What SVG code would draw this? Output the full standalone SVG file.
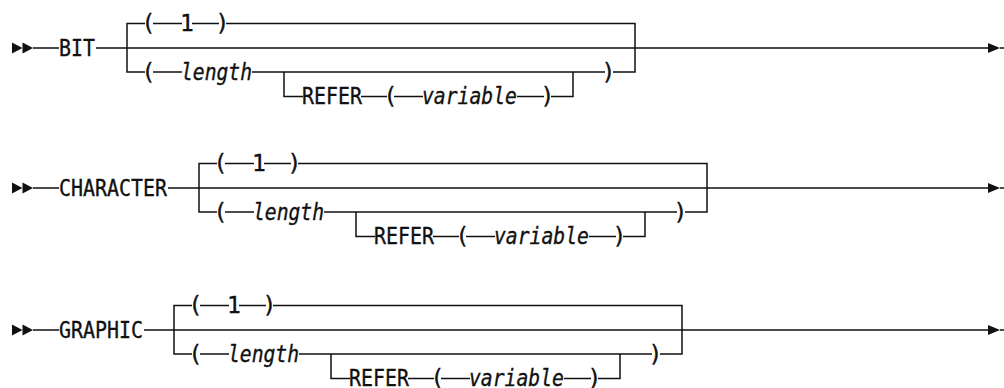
<svg xmlns="http://www.w3.org/2000/svg" xmlns:xlink="http://www.w3.org/1999/xlink" width="1004" height="388" viewBox="0 0 1004 388">
  <style>
    .rail { fill: none; stroke: #111; stroke-width: 1.5; }
    .head { fill: #111; stroke: none; }
    .kw { font-family: "DejaVu Sans Mono", "Liberation Mono", monospace; font-size: 23px; fill: #111; stroke: #111; stroke-width: 0.35; }
    .var { font-family: "DejaVu Sans Mono", "Liberation Mono", monospace; font-size: 23px; font-style: italic; fill: #111; stroke: #111; stroke-width: 0.35; }
    .mid { text-anchor: middle; }
  </style>
  <defs>
    <!-- statement start: double arrowhead, drawn at main-line y = 0 -->
    <g id="start-mark">
      <path class="head" d="M12,-5.5 L22.5,0 L12,5.5 Z"/>
      <path class="head" d="M22.5,-5.5 L33,0 L22.5,5.5 Z"/>
    </g>
    <!-- statement end: single arrowhead with closing tick -->
    <g id="end-mark">
      <path class="head" d="M988,-5 L1000,0 L988,5 Z"/>
      <path class="rail" d="M1000,0 H1004"/>
    </g>
    <!-- optional length clause; origin is the left bracket on the main line -->
    <g id="length-clause">
      <g class="rail">
        <path d="M18,-24.5 H0 V24 H18"/>
        <path d="M26,-24.5 H55"/>
        <path d="M65,-24.5 H92"/>
        <path d="M99,-24.5 H508 V24 H486"/>
        <path d="M26,24 H55"/>
        <path d="M125,24 H478"/>
        <path d="M157,24 V48.5 H176"/>
        <path d="M234,48.5 H260"/>
        <path d="M267,48.5 H296"/>
        <path d="M390,48.5 H417"/>
        <path d="M424,48.5 H446 V24"/>
      </g>
      <text class="kw mid" x="21.5" y="-17">(</text>
      <text class="kw mid" x="60" y="-17">1</text>
      <text class="kw mid" x="95.5" y="-17">)</text>
      <text class="kw mid" x="21.5" y="31.5">(</text>
      <text class="var" x="54" y="31.5" textLength="71" lengthAdjust="spacingAndGlyphs">length</text>
      <text class="kw mid" x="481.5" y="31.5">)</text>
      <text class="kw" x="175" y="56" textLength="60" lengthAdjust="spacingAndGlyphs">REFER</text>
      <text class="kw mid" x="263.5" y="56">(</text>
      <text class="var" x="295" y="56" textLength="95" lengthAdjust="spacingAndGlyphs">variable</text>
      <text class="kw mid" x="420.5" y="56">)</text>
    </g>
  </defs>

  <!-- connectors: main lines of each statement -->
  <g id="connectors" class="rail">
    <path d="M33,48 H59 M96,48 H988"/>
    <path d="M33,188 H59 M168,188 H988"/>
    <path d="M33,330 H59 M144,330 H988"/>
  </g>

  <!-- BIT -->
  <g id="bit">
    <use xlink:href="#start-mark" href="#start-mark" transform="translate(0,48)"/>
    <text class="kw" x="59" y="55.5" textLength="36" lengthAdjust="spacingAndGlyphs">BIT</text>
    <use xlink:href="#length-clause" href="#length-clause" transform="translate(127,48)"/>
    <use xlink:href="#end-mark" href="#end-mark" transform="translate(0,48)"/>
  </g>

  <!-- CHARACTER -->
  <g id="character">
    <use xlink:href="#start-mark" href="#start-mark" transform="translate(0,188)"/>
    <text class="kw" x="59" y="195.5" textLength="108" lengthAdjust="spacingAndGlyphs">CHARACTER</text>
    <use xlink:href="#length-clause" href="#length-clause" transform="translate(199,188)"/>
    <use xlink:href="#end-mark" href="#end-mark" transform="translate(0,188)"/>
  </g>

  <!-- GRAPHIC -->
  <g id="graphic">
    <use xlink:href="#start-mark" href="#start-mark" transform="translate(0,330)"/>
    <text class="kw" x="59" y="337.5" textLength="84" lengthAdjust="spacingAndGlyphs">GRAPHIC</text>
    <use xlink:href="#length-clause" href="#length-clause" transform="translate(174,330)"/>
    <use xlink:href="#end-mark" href="#end-mark" transform="translate(0,330)"/>
  </g>
</svg>
